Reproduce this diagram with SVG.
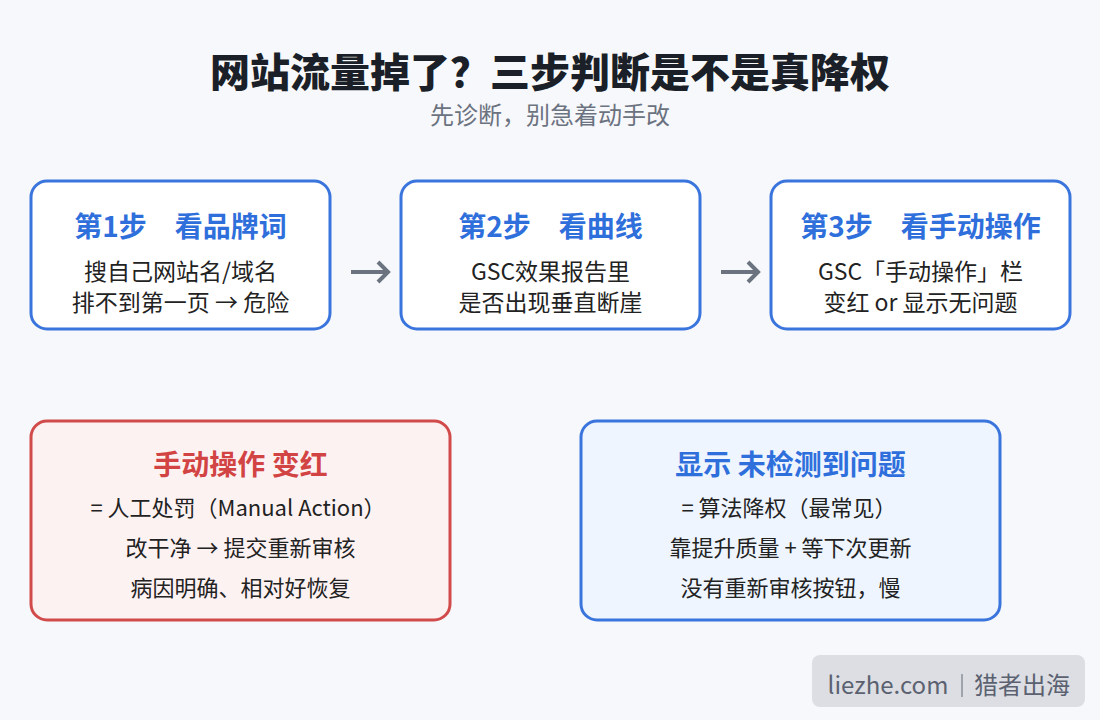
<svg xmlns="http://www.w3.org/2000/svg" width="1100" height="720" viewBox="0 0 1100 720">
<defs>
<style>
text{font-family:"Noto Sans CJK SC","Noto Sans",sans-serif;text-anchor:middle}
.title{font-size:40px;font-weight:900;fill:#1b1f27}
.sub{font-size:24px;fill:#6b7280}
.step{fill:#ffffff;stroke:#3a74dd;stroke-width:3}
.h{font-size:28px;font-weight:700;fill:#2f6fdc}
.b{font-size:22px;fill:#222222}
.bs{font-size:23px;fill:#222222}
.red{fill:#fdf2f2;stroke:#d24b4b;stroke-width:3}
.blue{fill:#eef5ff;stroke:#3a74dd;stroke-width:3}
.hr{font-size:28px;font-weight:700;fill:#d24444}
.conn{stroke:#6b7280;stroke-width:4;fill:none}
.wm{font-size:24px;fill:#5b6170}
</style>
</defs>
<rect width="1100" height="720" fill="#f7f8fb"/>
<text class="title" x="550" y="87">网站流量掉了？三步判断是不是真降权</text>
<text class="sub" x="550" y="124">先诊断，别急着动手改</text>

<g id="connectors">
<path class="conn" d="M351 272 H387"/>
<path d="M378 262 L388 272 L378 282" fill="none" stroke="#6b7280" stroke-width="4"/>
<path class="conn" d="M721 272 H757"/>
<path d="M748 262 L758 272 L748 282" fill="none" stroke="#6b7280" stroke-width="4"/>
</g>

<g id="step1">
<rect class="step" x="31" y="181" width="299" height="148" rx="16"/>
<text class="h" x="180.5" y="237" xml:space="preserve">第1步　看品牌词</text>
<text class="bs" x="180.5" y="280">搜自己网站名/域名</text>
<text class="bs" x="180.5" y="311">排不到第一页 → 危险</text>
</g>
<g id="step2">
<rect class="step" x="401" y="181" width="299" height="148" rx="16"/>
<text class="h" x="550.5" y="237" xml:space="preserve">第2步　看曲线</text>
<text class="bs" x="550.5" y="280">GSC效果报告里</text>
<text class="bs" x="550.5" y="311">是否出现垂直断崖</text>
</g>
<g id="step3">
<rect class="step" x="771" y="181" width="299" height="148" rx="16"/>
<text class="h" x="920.5" y="237" xml:space="preserve">第3步　看手动操作</text>
<text class="bs" x="920.5" y="280">GSC「手动操作」栏</text>
<text class="bs" x="920.5" y="311">变红 or 显示无问题</text>
</g>

<g id="manual">
<rect class="red" x="31" y="421" width="419" height="199" rx="16"/>
<text class="hr" x="240.5" y="475">手动操作 变红</text>
<text class="b" x="238" y="516">= 人工处罚（Manual Action）</text>
<text class="b" x="240.5" y="556">改干净 → 提交重新审核</text>
<text class="b" x="240.5" y="596">病因明确、相对好恢复</text>
</g>
<g id="algo">
<rect class="blue" x="581" y="421" width="419" height="199" rx="16"/>
<text class="h" x="790.5" y="475">显示 未检测到问题</text>
<text class="b" x="789" y="516">= 算法降权（最常见）</text>
<text class="b" x="790.5" y="556">靠提升质量 + 等下次更新</text>
<text class="b" x="790.5" y="596">没有重新审核按钮，慢</text>
</g>

<g id="watermark">
<rect x="812" y="655" width="273" height="52" rx="8" fill="#dcdee3"/>
<text class="wm" x="888" y="694">liezhe.com</text>
<line x1="962" y1="674" x2="962" y2="697" stroke="#8a8f9a" stroke-width="1.5"/>
<text class="wm" x="1022" y="694">猎者出海</text>
</g>
</svg>
